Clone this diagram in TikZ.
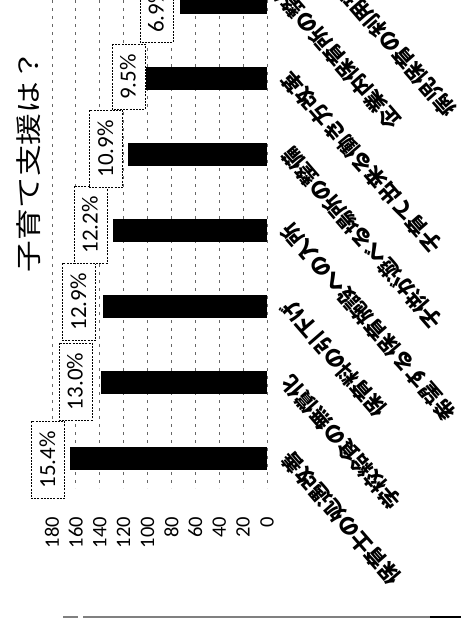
\documentclass[tikz,border=0pt]{standalone}
\usepackage{graphicx}
\usepackage{fontspec}
\setmainfont{Carlito}
\newfontfamily\jp{Noto Sans CJK JP}
\begin{document}
\begin{tikzpicture}[x=1pt,y=-1pt,
  bar/.style={fill=black,draw=none},
  gridline/.style={draw=black!60,line width=0.7pt,dash pattern=on 3pt off 5pt},
  pct/.style={draw=black,line width=0.7pt,dash pattern=on 2pt off 1.2pt,rotate=90,
    font=\fontsize{23}{23}\selectfont,inner xsep=10pt,inner ysep=0pt,
    minimum height=33pt,text height=15pt,text depth=1pt,fill=white},
  ticklab/.style={rotate=90,anchor=east,font=\fontsize{20.5}{20.5}\selectfont,inner sep=0pt},
  catlab/.style={rotate=131,anchor=east,font=\jp\bfseries\fontsize{21}{21}\selectfont,inner sep=0pt}]
\useasboundingbox (0,0) rectangle (461,619);
\clip (0,0) rectangle (461,619);
\fill[white] (0,0) rectangle (461,619);

% gridlines (value axis, rotated chart)
\foreach \v in {0,20,...,180}
  \draw[gridline] ({267-1.195*\v},0) -- ({267-1.195*\v},488);

% bars
\fill[bar] (70,446.5)  rectangle (267,469.5);
\fill[bar] (101,370.5) rectangle (267,393.5);
\fill[bar] (103,294.5) rectangle (267,317.5);
\fill[bar] (113,218.5) rectangle (267,241.5);
\fill[bar] (128,142.5) rectangle (267,165.5);
\fill[bar] (146,66.5)  rectangle (267,89.5);
\fill[bar] (180,-9.5)  rectangle (267,13.5);

% percentage labels
\node[pct] (p1) at (48,460)  {15.4\%};
\node[pct] (p2) at (75.5,381.5) {13.0\%};
\node[pct] (p3) at (79,302)  {12.9\%};
\node[pct] (p4) at (90.5,225) {12.2\%};
\node[pct] (p5) at (106,149) {10.9\%};
\node[pct] (p6) at (128.5,77) {9.5\%};
\node[pct] (p7) at (156.5,10) {6.9\%};

% value axis tick labels
\node[ticklab] (t180) at (51.9,517)  {180};
\node[ticklab] (t160) at (75.8,517)  {160};
\node[ticklab] (t140) at (99.7,517)  {140};
\node[ticklab] (t120) at (123.6,517) {120};
\node[ticklab] (t100) at (147.5,517) {100};
\node[ticklab] (t80)  at (171.4,517) {80};
\node[ticklab] (t60)  at (195.3,517) {60};
\node[ticklab] (t40)  at (219.2,517) {40};
\node[ticklab] (t20)  at (243.1,517) {20};
\node[ticklab] (t0)   at (267,517)   {0};

% category labels
\node[catlab] (c1) at (286,455) {保育士の処遇改善};
\node[catlab] (c2) at (286,379) {学校給食の無償化};
\node[catlab] (c3) at (286,303) {保育料の引下げ};
\node[catlab] (c4) at (286,227) {希望する保育施設への入所};
\node[catlab] (c5) at (286,151) {子供が遊べる場所の整備};
\node[catlab] (c6) at (286,75)  {子育て出来る働き方改革};
\node[catlab] (c7) at (272,-17) {企業内保育所の整備};
\node[catlab] (c8) at (286,-77) {病児保育の利用環境の整備};

% title
\node[rotate=90,inner sep=0pt,font=\jp\fontsize{26}{26}\selectfont] (title) at (29,161)
  {\scalebox{1.22}[1]{子育て支援は？}};

% bottom rule
\draw[black!50,line width=1.2pt] (63,617) -- (78,617);
\draw[black!50,line width=1.2pt] (83,617) -- (461,617);
\draw[black,line width=2pt] (430,617) -- (461,617);
\end{tikzpicture}
\end{document}
